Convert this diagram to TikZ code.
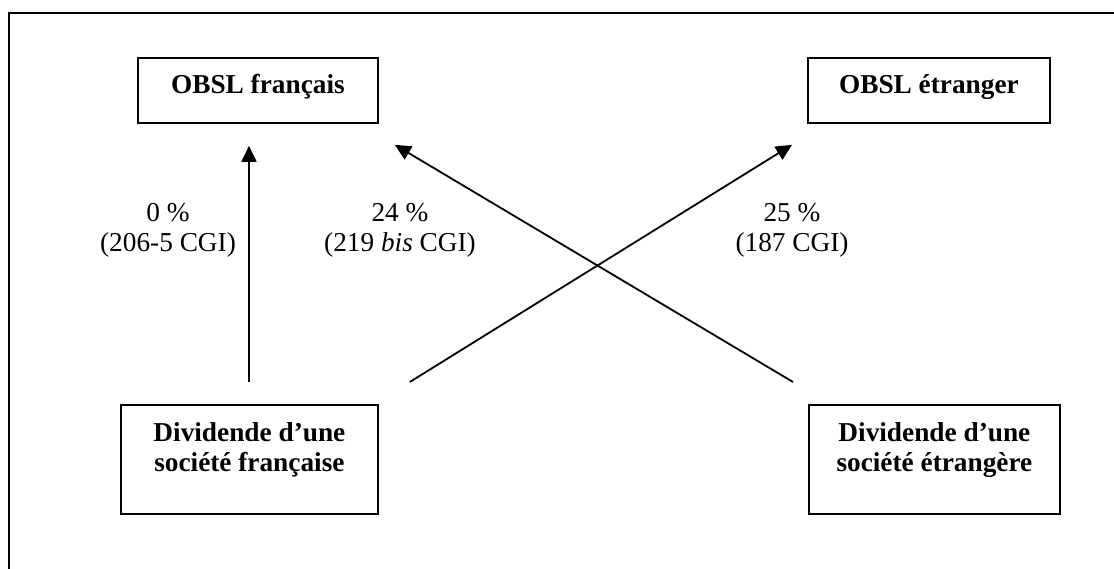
\documentclass[tikz,border=0pt]{standalone}
\usepackage{fontspec}
\setmainfont{Liberation Serif}
\usetikzlibrary{arrows.meta}
\tikzset{
  box/.style={draw, line width=1.8pt, inner sep=0pt, anchor=north west,
              align=center, font=\bfseries\fontsize{27.3pt}{30pt}\selectfont},
  lbl/.style={inner sep=0pt, anchor=north, align=center,
              font=\fontsize{27.3pt}{30pt}\selectfont},
  arr/.style={line width=1.8pt, -{Triangle[length=16pt,width=15pt]}},
  frame/.style={line width=1.8pt}
}
\newcommand{\topstrut}[1]{\rule{0pt}{#1}}
\newcommand{\botstrut}[1]{\rule[-#1]{0pt}{#1}}
\begin{document}
\begin{tikzpicture}[x=1pt,y=-1pt]
\useasboundingbox (0,0) rectangle (1114,569);

% outer frame (top and left edges)
\draw[frame] (9,569) -- (9,13) -- (1114,13);

% recipients
\node[box, minimum width=240pt, minimum height=65pt] (ofr) at (137,57)
  {\topstrut{36pt}OBSL français\botstrut{29pt}};
\node[box, minimum width=242pt, minimum height=65pt] (oet) at (807,57)
  {\topstrut{36pt}OBSL étranger\botstrut{29pt}};

% dividend sources
\node[box, minimum width=257pt, minimum height=109pt] (dfr) at (120,404)
  {\topstrut{37pt}Dividende d’une\\société française\botstrut{42pt}};
\node[box, minimum width=251pt, minimum height=109pt] (det) at (808,404)
  {\topstrut{37pt}Dividende d’une\\société étrangère\botstrut{42pt}};

% arrow end points
\coordinate (a1s) at ([yshift=22pt]dfr.north -| 249,0);
\coordinate (a1e) at ([yshift=-22pt]ofr.south -| 249,0);
\coordinate (a2s) at ([xshift=31pt,yshift=22pt]dfr.north east);
\coordinate (a2e) at ([xshift=-15pt,yshift=-21pt]oet.south west);
\coordinate (a3s) at ([xshift=-15pt,yshift=22pt]det.north west);
\coordinate (a3e) at ([xshift=16pt,yshift=-21pt]ofr.south east);

\draw[arr] (a1s) -- (a1e);
\draw[arr] (a2s) -- (a2e);
\draw[arr] (a3s) -- (a3e);

% rates
\node[lbl] (r1) at (168,201) {\topstrut{20pt}0 \%\\(206-5 CGI)};
\node[lbl] (r2) at (400,201) {\topstrut{20pt}24 \%\\(219 \textit{bis} CGI)};
\node[lbl] (r3) at (792,201) {\topstrut{20pt}25 \%\\(187 CGI)};
\end{tikzpicture}
\end{document}
